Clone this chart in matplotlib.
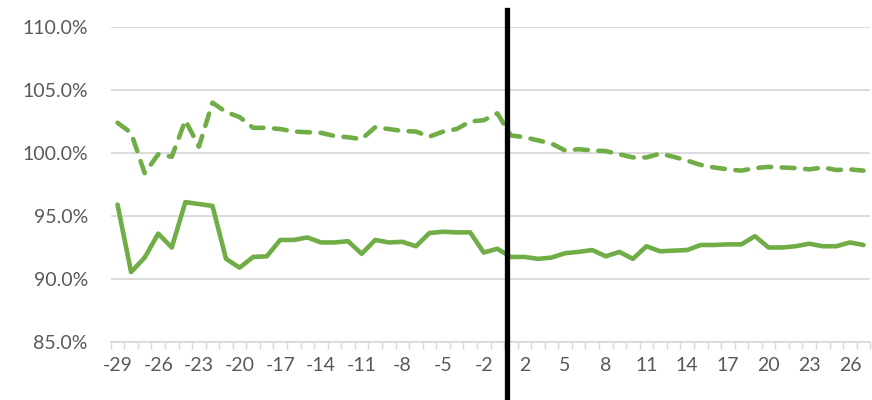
import matplotlib
matplotlib.use("Agg")
import matplotlib.pyplot as plt
import matplotlib.transforms as mtransforms
from matplotlib.ticker import FixedLocator, FuncFormatter

periods = list(range(-29, 0)) + list(range(1, 28))

solid = [95.9, 90.55, 91.7, 93.6, 92.5, 96.1, 95.95, 95.8, 91.6, 90.9,
         91.75, 91.8, 93.1, 93.1, 93.3, 92.9, 92.9, 93.0, 92.0, 93.1,
         92.9, 92.95, 92.6, 93.65, 93.75, 93.7, 93.7, 92.1, 92.4, 91.75,
         91.75, 91.6, 91.7, 92.05, 92.15, 92.3, 91.8, 92.15, 91.6, 92.6,
         92.2, 92.25, 92.3, 92.7, 92.7, 92.75, 92.75, 93.4, 92.5, 92.5,
         92.6, 92.8, 92.6, 92.6, 92.9, 92.7]

dashed = [102.4, 101.6, 98.4, 99.9, 99.7, 102.6, 100.5, 104.0, 103.25, 102.85,
          102.0, 102.0, 101.9, 101.7, 101.65, 101.6, 101.35, 101.25, 101.1, 102.05,
          101.9, 101.75, 101.7, 101.3, 101.7, 101.9, 102.5, 102.6, 103.15, 101.4,
          101.25, 101.0, 100.75, 100.2, 100.3, 100.2, 100.15, 99.9, 99.65, 99.65,
          99.95, 99.7, 99.4, 99.05, 98.85, 98.7, 98.6, 98.8, 98.9, 98.85,
          98.8, 98.7, 98.85, 98.65, 98.7, 98.6]

y_ticks = [85, 90, 95, 100, 105, 110]
green = "#70ad47"
label_color = "#595959"
grid_color = "#d9d9d9"

plt.rcParams['font.family'] = ['Lato', 'DejaVu Sans']

fig = plt.figure(figsize=(8.72, 4.0), dpi=100)
ax = fig.add_axes([0.127, 0.145, 0.871, 0.7875])

x = list(range(len(periods)))
ax.plot(x, solid, color=green, lw=3.3, solid_joinstyle='round', solid_capstyle='round', zorder=3)
ax.plot(x, dashed, color=green, lw=3.3, dashes=(2.8, 2.3), dash_capstyle='round',
        dash_joinstyle='round', zorder=3)

ax.set_xlim(-0.5, len(periods) - 0.5)
ax.set_ylim(85, 110)

ax.yaxis.set_major_locator(FixedLocator(y_ticks))
ax.yaxis.set_major_formatter(FuncFormatter(lambda v, p: f"{v:.1f}%"))
ax.grid(axis='y', color=grid_color, lw=1.3, zorder=0)
ax.tick_params(axis='y', length=0, pad=16.5, labelsize=14, labelcolor=label_color)

major = list(range(0, len(periods), 3))
ax.set_xticks(major)
ax.set_xticklabels([str(periods[i]) for i in major])
ax.set_xticks([i + 0.5 for i in range(-1, len(periods))], minor=True)
ax.tick_params(axis='x', which='major', length=0, pad=11, labelsize=14, labelcolor=label_color)
ax.tick_params(axis='x', which='minor', length=5, width=1, color=grid_color, direction='out')

for s in ['top', 'right', 'left']:
    ax.spines[s].set_visible(False)
ax.spines['bottom'].set_color(grid_color)
ax.spines['bottom'].set_linewidth(1.3)

# vertical separator between -1 and 1 (slightly right of the category boundary)
sep = periods.index(-1) + 0.5
shift = mtransforms.ScaledTranslation(3 / 100, 0, fig.dpi_scale_trans)
vl = ax.axvline(sep, ymin=-0.19, ymax=1.055, color='black', lw=3.8, clip_on=False, zorder=4)
vl.set_transform(vl.get_transform() + shift)

fig.savefig("out.png", dpi=100)
